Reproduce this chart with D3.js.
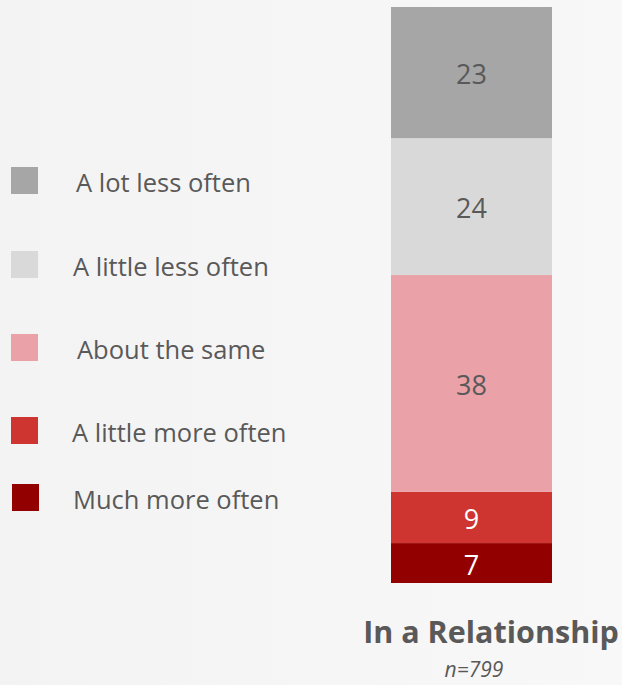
<!DOCTYPE html>
<html><head><meta charset="utf-8">
<script src="https://cdn.jsdelivr.net/npm/d3@7/dist/d3.min.js"></script>
<style>
html,body{margin:0;padding:0;}
body{width:622px;height:685px;overflow:hidden;background:#f5f5f5;}
text{font-family:"Open Sans","Noto Sans",sans-serif;}
</style></head><body>
<svg id="chart" width="622" height="685"></svg>
<script>
const categories = ["Much more often","A little more often","About the same","A little less often","A lot less often"];
const values = [7, 9, 38, 24, 23];
const colors = ["#930000","#ce3430","#eaa1a7","#d9d9d9","#a6a6a6"];
const labelColors = ["#ffffff","#ffffff","#595959","#595959","#595959"];
const groupName = "In a Relationship";
const sampleNote = "n=799";

// layout only (legend rows, top-to-bottom)
const legendRowY = [180.5, 264.5, 347.5, 430.5, 497.5];
const legendTextX = [76, 73, 77, 72, 73];

const svg = d3.select("#chart");
const defs = svg.append("defs");
const grad = defs.append("linearGradient").attr("id","bg").attr("x1","0").attr("y1","0").attr("x2","1").attr("y2","0");
grad.append("stop").attr("offset","0").attr("stop-color","#f3f3f3");
grad.append("stop").attr("offset","1").attr("stop-color","#f8f8f8");
svg.append("rect").attr("width",622).attr("height",685).attr("fill","url(#bg)");

const total = d3.sum(values);
const y = d3.scaleLinear().domain([0,total]).range([583,7]);
const x = d3.scaleBand().domain([groupName]).range([391,552]).padding(0);

let cum = 0;
const stacked = values.map((v,i)=>{const s={v,i,y0:cum,y1:cum+v};cum+=v;return s;});

const g = svg.append("g");
g.selectAll("rect.seg").data(stacked).join("rect")
  .attr("class","seg")
  .attr("x",x(groupName)).attr("width",x.bandwidth())
  .attr("y",d=>y(d.y1)).attr("height",d=>y(d.y0)-y(d.y1))
  .attr("fill",d=>colors[d.i]);

g.selectAll("text.val").data(stacked).join("text")
  .attr("class","val")
  .attr("x",x(groupName)+x.bandwidth()/2)
  .attr("y",d=>(y(d.y0)+y(d.y1))/2)
  .attr("dy","0.43em")
  .attr("text-anchor","middle")
  .attr("font-size",27)
  .attr("fill",d=>labelColors[d.i])
  .text(d=>d.v);

// legend (top to bottom = reversed stack order)
const legendOrder = categories.map((c,i)=>i).reverse();
const leg = svg.append("g");
legendOrder.forEach((i,k)=>{
  const cy = legendRowY[k];
  leg.append("rect").attr("x",k===4?12:11).attr("y",cy-13.5).attr("width",27).attr("height",27).attr("fill",colors[i]);
  leg.append("text").attr("x",legendTextX[k]).attr("y",cy).attr("dy","0.45em")
    .attr("font-size",25.5).attr("fill","#595959").text(categories[i]);
});

svg.append("text").attr("x",491).attr("y",643).attr("text-anchor","middle")
  .attr("font-size",30.5).attr("font-weight","bold").attr("fill","#595959").text(groupName);
svg.append("text").attr("x",474).attr("y",677).attr("text-anchor","middle")
  .attr("font-size",21).attr("font-style","italic").attr("fill","#595959").text(sampleNote);
</script></body></html>
